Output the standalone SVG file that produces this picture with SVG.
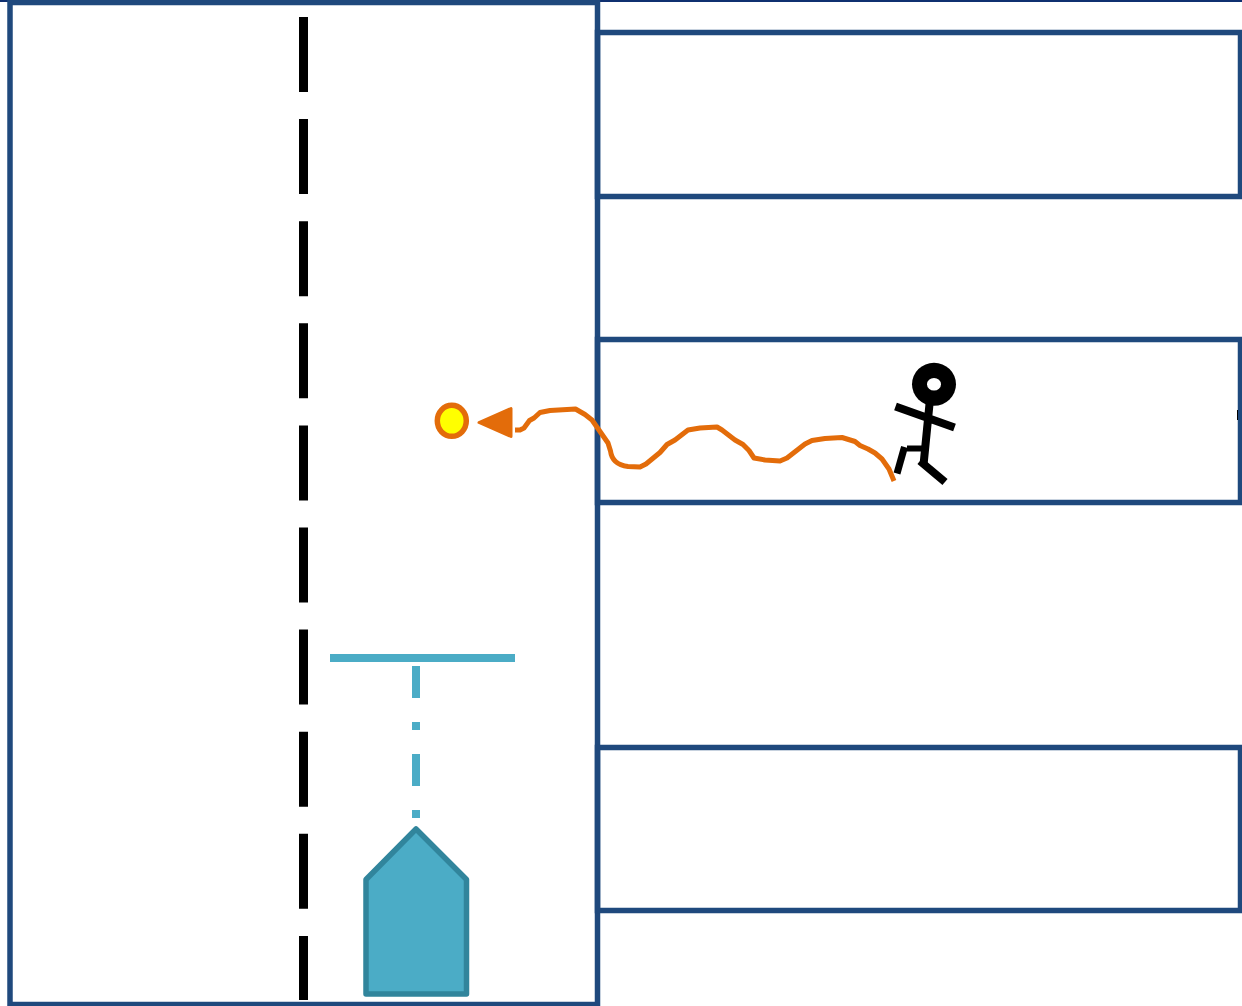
<svg xmlns="http://www.w3.org/2000/svg" width="1242" height="1006" viewBox="0 0 1242 1006">
<style>
.frame{fill:none;stroke:#1f497d;stroke-width:5.500}
.stick{fill:none;stroke:#000;stroke-width:8}
.teal{fill:none;stroke:#4bacc6}
</style>
<rect width="1242" height="1006" fill="#fff"/>
<g id="road">
<line x1="0" y1="1" x2="1242" y2="1" stroke="#0f3070" stroke-width="2"/>
<rect class="frame" x="10" y="2.500" width="587.500" height="1002"/>
<line x1="303.500" y1="17" x2="303.500" y2="1000" stroke="#000" stroke-width="9" stroke-dasharray="75 27.100"/>
</g>
<g id="lanes">
<rect id="lane-1" class="frame" x="597.500" y="32.500" width="643" height="164"/>
<rect id="lane-2" class="frame" x="597.500" y="339.500" width="643" height="163"/>
<rect id="lane-3" class="frame" x="597.500" y="747.500" width="643" height="163"/>
<line x1="1237.500" y1="410" x2="1237.500" y2="420" stroke="#000" stroke-width="1"/>
</g>
<g id="vehicle">
<line class="teal" x1="330" y1="658" x2="515" y2="658" stroke-width="8"/>
<line class="teal" x1="416" y1="666" x2="416" y2="818" stroke-width="8" stroke-dasharray="32 24 8 24"/>
<path d="M416 829L366 879.500V994H466.500V879.500Z" fill="#4bacc6" stroke="#31859c" stroke-width="5.500" stroke-linejoin="round"/>
</g>
<g id="pedestrian">
<ellipse cx="934" cy="384.300" rx="22" ry="21.500" fill="#000"/>
<ellipse cx="934" cy="384.300" rx="7" ry="6.300" fill="#fff"/>
<path class="stick" d="M895.500 406.500L954.500 427.500M929.500 404L923.500 465"/>
<path class="stick" d="M920 461L945 482"/>
<path class="stick" d="M927 448.500H907" style="stroke-width:6"/>
<path class="stick" d="M904.500 447L897 473.500" style="stroke-width:7"/>
</g>
<g id="connectors">
<path d="M515 430H520L524 428L529.500 420.500L534 418L540 412.500L550 410.500L575.500 409L585 414.500L592 420L600 431.500L608 443L610.500 451C611.500 459 616 465 628 466.500L640 467L646 464L660 452.500L667 444.500L675 440L688 430L700 428L717 427L722 430L735 440L743 444.500L749 450.500L754 458L765 460L780 461L787 458L805 444L812 440.500L825 438.500L842 437.500L855 441.500L860 445.500L868 449L875 453L882 459L889 469L894 481" fill="none" stroke="#e36c0a" stroke-width="5" stroke-linejoin="round"/>
<polygon points="479,422.500 511,408.500 511,436.500" fill="#e36c0a" stroke="#e36c0a" stroke-width="3" stroke-linejoin="round"/>
</g>
<g id="target">
<ellipse cx="451.800" cy="420.800" rx="14.500" ry="15.500" fill="#ff0" stroke="#e36c0a" stroke-width="5.500"/>
</g>
</svg>
